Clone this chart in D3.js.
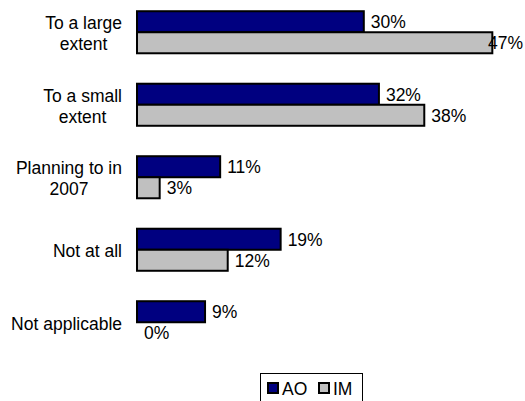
<!DOCTYPE html>
<html>
<head>
<meta charset="utf-8">
<script src="https://cdn.jsdelivr.net/npm/d3@7"></script>
<style>
  body { margin: 0; background: #fff; }
  svg { display: block; font-family: Arial, "Liberation Sans", sans-serif; }
</style>
</head>
<body>
<div id="chart"></div>
<script>
// data
var categories = [["To a large", "extent"], ["To a small", "extent"], ["Planning to in", "2007"], ["Not at all"], ["Not applicable"]];
var seriesNames = ["AO", "IM"];
var aoValues = [30, 32, 11, 19, 9];
var imValues = [47, 38, 3, 12, 0];
var seriesColors = ["#000080", "#C0C0C0"];

var width = 525, height = 401;
var fontSize = 17.5;

var svg = d3.select("#chart").append("svg")
    .attr("width", width)
    .attr("height", height);

var rows = categories.map(function(c, i) {
    return { key: i, label: c, AO: aoValues[i], IM: imValues[i] };
});

var x = d3.scaleLinear()
    .domain([0, 50])
    .range([137, 515]);

var y = d3.scaleBand()
    .domain(rows.map(d => d.key))
    .range([-4, 358.5])
    .paddingInner(0.42)
    .paddingOuter(0.21);

var ySub = d3.scaleBand()
    .domain(seriesNames)
    .range([0, y.bandwidth()]);

var color = d3.scaleOrdinal().domain(seriesNames).range(seriesColors);

var groups = svg.selectAll("g.grp")
    .data(rows)
    .enter()
    .append("g")
    .attr("class", "grp")
    .attr("transform", d => "translate(0," + y(d.key) + ")");

// bars
groups.selectAll("rect")
    .data(d => seriesNames.map(s => ({ key: s, value: d[s] })))
    .enter()
    .filter(d => d.value > 0)
    .append("rect")
    .attr("x", x(0))
    .attr("y", d => ySub(d.key))
    .attr("width", d => x(d.value) - x(0))
    .attr("height", ySub.bandwidth())
    .attr("fill", d => color(d.key))
    .attr("stroke", "#000")
    .attr("stroke-width", 2);

// value labels
groups.selectAll("text.val")
    .data(d => seriesNames.map(s => ({ key: s, value: d[s] })))
    .enter()
    .append("text")
    .attr("class", "val")
    .attr("font-size", fontSize)
    .attr("y", d => ySub(d.key) + ySub.bandwidth() / 2 + fontSize * 0.36)
    .text(d => d.value + "%")
    .attr("x", function(d) {
        var w = this.getComputedTextLength();
        var px = x(d.value) + 7;
        if (px + w > 523) px = 523 - w;
        return px;
    });

// category labels (centered block, right edge at axis)
var lineH = 21;
groups.each(function(d) {
    var g = d3.select(this);
    var t = g.append("text")
        .attr("font-size", fontSize)
        .attr("text-anchor", "middle");
    var n = d.label.length;
    var cy = y.bandwidth() / 2;
    t.selectAll("tspan")
        .data(d.label)
        .enter()
        .append("tspan")
        .attr("y", (s, i) => cy + fontSize * 0.36 + (i - (n - 1) / 2) * lineH + 1)
        .text(s => s);
    var maxW = 0;
    t.selectAll("tspan").each(function() {
        maxW = Math.max(maxW, this.getComputedTextLength());
    });
    t.selectAll("tspan").attr("x", 122 - maxW / 2);
});

// legend
var legend = svg.append("g").attr("class", "legend");
legend.append("rect")
    .attr("x", 260.5)
    .attr("y", 373.5)
    .attr("width", 102)
    .attr("height", 40)
    .attr("fill", "#fff")
    .attr("stroke", "#000")
    .attr("stroke-width", 1);

var legendX = [268, 319];
seriesNames.forEach(function(s, i) {
    legend.append("rect")
        .attr("x", legendX[i])
        .attr("y", 383)
        .attr("width", 10)
        .attr("height", 10)
        .attr("fill", color(s))
        .attr("stroke", "#000")
        .attr("stroke-width", 2);
    legend.append("text")
        .attr("x", legendX[i] + 14)
        .attr("y", 394.5)
        .attr("font-size", fontSize)
        .text(s);
});
</script>
</body>
</html>
